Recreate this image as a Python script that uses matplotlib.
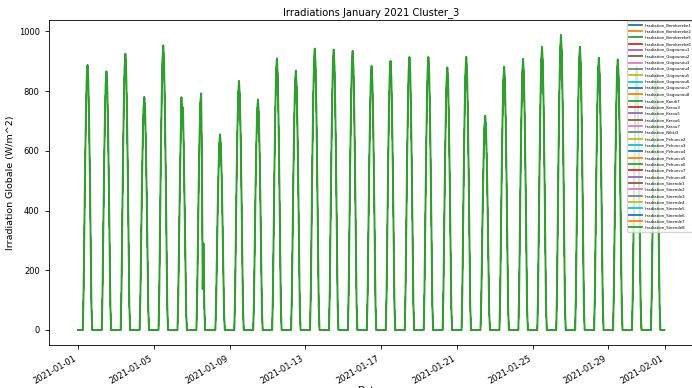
import matplotlib
matplotlib.use("Agg")
import matplotlib.pyplot as plt
import matplotlib.dates as mdates
import numpy as np
import pandas as pd

# Stations of cluster 3
stations = [
    "Bembereke1", "Bembereke2", "Bembereke5", "Bembereke6",
    "Gogounou1", "Gogounou2", "Gogounou3", "Gogounou4",
    "Gogounou5", "Gogounou6", "Gogounou7", "Gogounou8",
    "Kandi7", "Kerou3", "Kerou5", "Kerou6", "Kerou7", "Nikki3",
    "Pehunco2", "Pehunco3", "Pehunco4", "Pehunco5", "Pehunco6",
    "Pehunco7", "Pehunco8",
    "Sinende1", "Sinende2", "Sinende3", "Sinende4",
    "Sinende5", "Sinende6", "Sinende7", "Sinende8",
]

# Daily maximum global irradiation (W/m^2), 1..31 January 2021
daily_peak = [887, 866, 925, 780, 953, 779, 792, 655, 833, 772,
              909, 868, 942, 939, 934, 884, 901, 914, 914, 879,
              914, 717, 881, 907, 948, 987, 948, 911, 906, 880, 860]

# Typical clear-day hourly shape (fraction of the daily maximum, UTC hours 0..23)
hourly_shape = [0, 0, 0, 0, 0, 0, 0.0, 0.14, 0.39, 0.62, 0.81, 0.95,
                1.0, 0.94, 0.79, 0.58, 0.34, 0.09, 0, 0, 0, 0, 0, 0]

# Cloudy days with irregular hourly records
jan06_hourly = [0, 0, 0, 0, 0, 0, 0, 110, 300, 480, 640, 779,
                690, 745, 600, 430, 250, 60, 0, 0, 0, 0, 0, 0]
jan07_hourly = [0, 0, 0, 0, 0, 0, 0, 120, 320, 500, 650, 760,
                792, 560, 137, 290, 80, 0, 0, 0, 0, 0, 0, 0]
special_days = {6: jan06_hourly, 7: jan07_hourly}

hourly = []
for day, peak in enumerate(daily_peak, start=1):
    if day in special_days:
        hourly.extend(special_days[day])
    else:
        hourly.extend([peak * f for f in hourly_shape])

index = pd.date_range("2021-01-01 00:00", periods=len(hourly), freq="h")
df = pd.DataFrame({f"Irradiation_{s}": hourly for s in stations}, index=index)

fig = plt.figure(figsize=(6.92, 3.88), dpi=100)
ax = fig.add_axes([0.0704, 0.1116, 0.932, 0.8356])

# all stations share the same record; the last one drawn sits on top
cols = list(df.columns)
for i, col in enumerate(cols):
    lw = 1.4 if i == len(cols) - 1 else 0.6
    ax.plot(df.index, df[col], lw=lw, label=col)

ax.set_title("Irradiations January 2021 Cluster_3", fontsize=7.2, pad=4)
ax.set_ylabel("Irradiation Globale (W/m^2)", fontsize=6.8, labelpad=3)
ax.set_xlabel("Dates", fontsize=6.8, labelpad=0)
ax.set_yticks([0, 200, 400, 600, 800, 1000])
ax.tick_params(axis="both", labelsize=6, length=3, width=0.6)
for sp in ax.spines.values():
    sp.set_linewidth(0.6)

ax.xaxis.set_major_locator(mdates.DayLocator(bymonthday=[1, 5, 9, 13, 17, 21, 25, 29]))
ax.xaxis.set_major_formatter(mdates.DateFormatter("%Y-%m-%d"))
for lbl in ax.get_xticklabels():
    lbl.set_rotation(30)
    lbl.set_ha("right")

leg = ax.legend(loc="upper left", bbox_to_anchor=(0.897, 0.998), borderaxespad=0,
                fontsize=2.8, handlelength=3.4, handletextpad=0.6,
                labelspacing=0.6, borderpad=0.5, framealpha=0.8)
for h in leg.get_lines():
    h.set_linewidth(1.3)

fig.savefig("out.png", dpi=100)
